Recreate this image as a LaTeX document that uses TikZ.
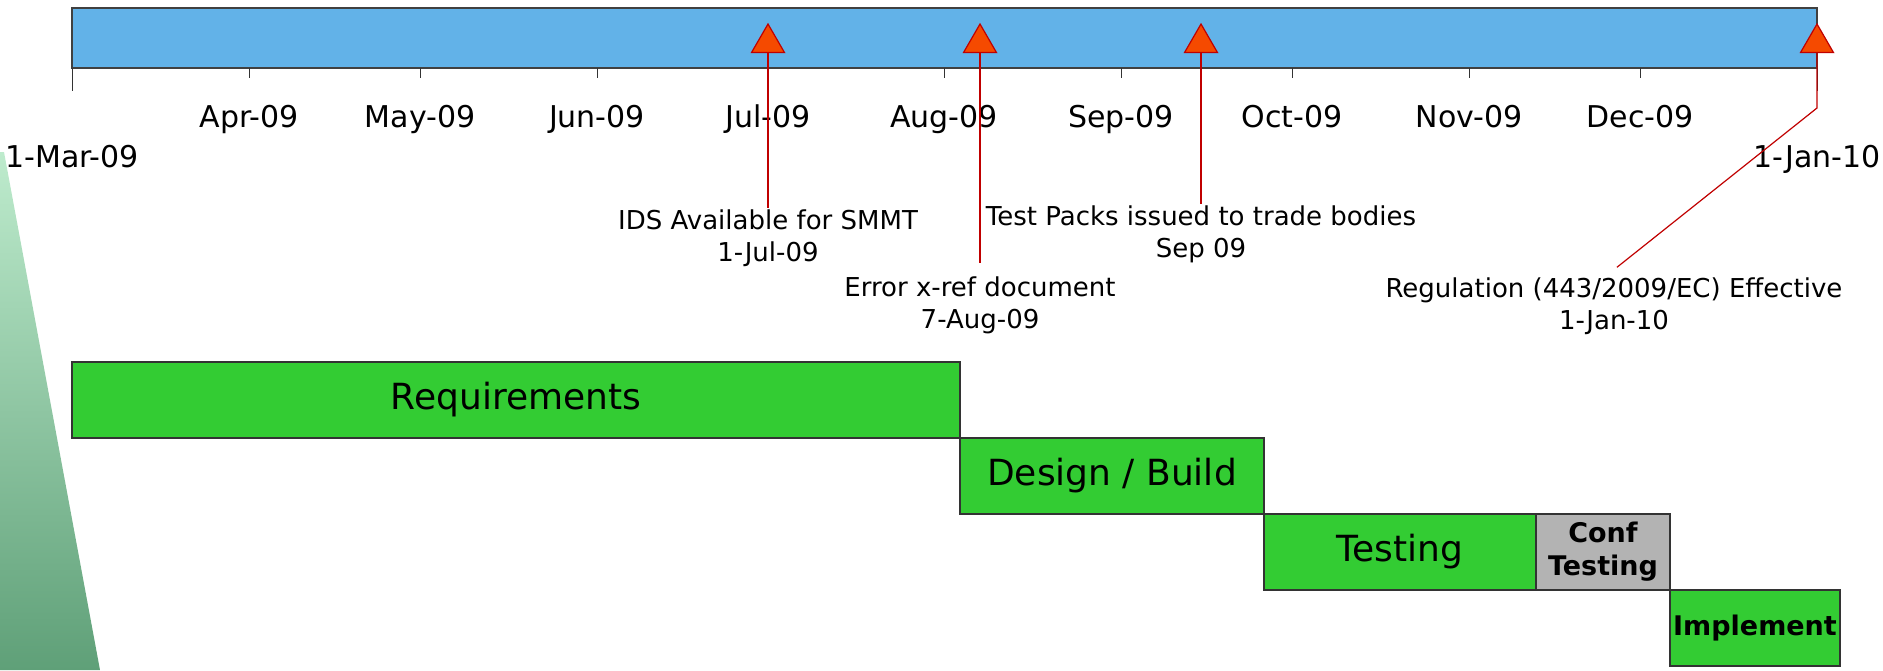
\documentclass[tikz,border=0pt]{standalone}
\usepackage{fontspec}
\setmainfont{DejaVu Sans}
\usetikzlibrary{positioning,shapes.geometric}

\definecolor{barblue}{RGB}{98,178,232}
\definecolor{phasegreen}{RGB}{51,204,51}
\definecolor{confgray}{RGB}{179,179,179}
\definecolor{markred}{RGB}{192,0,0}
\definecolor{markfill}{RGB}{245,74,0}
\definecolor{wedgetop}{RGB}{190,235,205}
\definecolor{wedgebottom}{RGB}{95,160,120}

\begin{document}
\begin{tikzpicture}[
    x=1pt, y=-1pt,
    timebar/.style={draw=black!75, line width=1.2pt, fill=barblue, minimum width=1745pt, minimum height=60pt, inner sep=0pt, outer sep=0pt, anchor=north west},
    month/.style={font=\fontsize{30}{36}\selectfont, anchor=base},
    tickmark/.style={draw=black!80, line width=1pt},
    marker/.style={regular polygon, regular polygon sides=3, minimum size=38pt, inner sep=0pt, draw=markred, fill=markfill, line width=1.2pt},
    leader/.style={draw=markred, line width=1.2pt},
    note/.style={font=\fontsize{26}{32}\selectfont, align=center, anchor=north, inner sep=2pt},
    phase/.style={draw=black!80, line width=1.2pt, fill=phasegreen, minimum height=76pt, inner sep=0pt, outer sep=0pt, anchor=north west, font=\fontsize{36}{43}\selectfont},
    boldphase/.style={phase, font=\fontsize{27}{33}\selectfont\bfseries, align=center}
]
    \useasboundingbox (0,0) rectangle (1883,670);

    % Wedge on the left
    \shade[top color=wedgetop, bottom color=wedgebottom] (0,152) -- (4,152) -- (100,670) -- (0,670) -- cycle;

    % Time line
    \node[timebar] (bar) at (72,8) {};
    \draw[tickmark] (bar.south west) -- ++(0,23);
    \draw[tickmark] (bar.south east) -- ++(0,23);
    \draw[tickmark] (249,68) -- ++(0,10) (420,68) -- ++(0,10) (597,68) -- ++(0,10)
        (768,68) -- ++(0,10) (944,68) -- ++(0,10) (1121,68) -- ++(0,10)
        (1292,68) -- ++(0,10) (1469,68) -- ++(0,10) (1640,68) -- ++(0,10);

    % Months
    \node[month] (start) at (72,167) {1-Mar-09};
    \node[month] (apr) at (249,127) {Apr-09};
    \node[month] (may) at (420,127) {May-09};
    \node[month] (jun) at (597,127) {Jun-09};
    \node[month] (jul) at (768,127) {Jul-09};
    \node[month] (aug) at (944,127) {Aug-09};
    \node[month] (sep) at (1121,127) {Sep-09};
    \node[month] (oct) at (1292,127) {Oct-09};
    \node[month] (nov) at (1469,127) {Nov-09};
    \node[month] (dec) at (1640,127) {Dec-09};
    \node[month] (end) at (1817,167) {1-Jan-10};

    % Milestones
    \node[marker] (mjul) at (768,43) {};
    \node[marker] (maug) at (980,43) {};
    \node[marker] (msep) at (1201,43) {};
    \node[marker] (mjan) at (1817,43) {};

    \node[note] (ids) at (768,208) {IDS Available for SMMT\\1-Jul-09};
    \node[note] (xref) at (980,275) {Error x-ref document\\7-Aug-09};
    \node[note] (packs) at (1201,204) {Test Packs issued to trade bodies\\Sep 09};
    \node[note] (reg) at (1614,276) {Regulation (443/2009/EC) Effective\\1-Jan-10};

    \coordinate (janbend) at (1817,108);
    \draw[leader] (mjul.side 2) -- (ids.north);
    \draw[leader, shorten >=12pt] (maug.side 2) -- (xref.north);
    \draw[leader] (msep.side 2) -- (packs.north);
    \draw[leader, shorten >=14pt] (mjan.side 2) -- (janbend) -- ([xshift=-8pt]reg.north);

    % Phases
    \node[phase, minimum width=888pt] (req) at (72,362) {Requirements};
    \node[phase, minimum width=304pt] (design) at (req.south east) {Design / Build};
    \node[phase, minimum width=272pt] (testing) at (design.south east) {Testing};
    \node[boldphase, minimum width=134pt, fill=confgray] (conf) at (testing.north east) {Conf\\Testing};
    \node[boldphase, minimum width=170pt] (implement) at (conf.south east) {Implement};
\end{tikzpicture}
\end{document}
